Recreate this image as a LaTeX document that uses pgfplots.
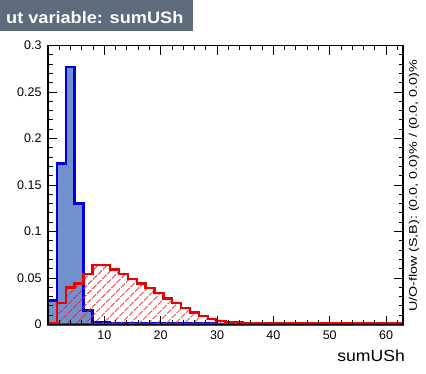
\documentclass[border=0pt]{standalone}
\usepackage{pgfplots}
\pgfplotsset{compat=1.18}
\usepackage{pgfplotstable}
\usepackage{graphicx}
\usepackage{fontspec}
\setmainfont{Liberation Sans}
\usetikzlibrary{patterns.meta}
\definecolor{sigfill}{HTML}{7290CC}
\definecolor{sigline}{HTML}{0000DD}
\definecolor{bkgline}{HTML}{EE0000}
\definecolor{titlebox}{HTML}{5D6B7D}

\pgfplotstableread{
x sig bkg
0.000 0.026 0.001
1.575 0.173 0.023
3.150 0.277 0.040
4.725 0.130 0.044
6.300 0.015 0.054
7.875 0.002 0.064
9.450 0.002 0.064
11.025 0.0015 0.059
12.600 0.0015 0.054
14.175 0.0015 0.049
15.750 0.0015 0.044
17.325 0.0015 0.039
18.900 0.0015 0.034
20.475 0.0015 0.028
22.050 0.0015 0.023
23.625 0.0015 0.018
25.200 0.0015 0.013
26.775 0.0015 0.009
28.350 0.0012 0.006
29.925 0 0.004
31.500 0 0.0025
33.075 0 0.002
34.650 0 0.0015
36.225 0 0.0012
37.800 0 0.0012
39.375 0 0.0012
40.950 0 0.0012
42.525 0 0.0012
44.100 0 0.0012
45.675 0 0.0012
47.250 0 0.0012
48.825 0 0.0012
50.400 0 0.0012
51.975 0 0.0012
53.550 0 0.0012
55.125 0 0.0012
56.700 0 0.0012
58.275 0 0.0012
59.850 0 0.0012
61.425 0 0.0012
63.000 0 0.0012
}\data

\begin{document}
\begin{tikzpicture}[x=1pt,y=1pt]
\path[use as bounding box] (0,0) rectangle (426,373);
% title box
\fill[titlebox] (0,342) rectangle (193,373);
\node[anchor=base west, inner sep=0pt, text=white] at (6,349)
  {\scalebox{1.1}[1]{\bfseries\fontsize{16.5}{19}\selectfont ut variable: sumUSh}};
\begin{axis}[
  at={(48pt,48.5pt)}, anchor=south west,
  scale only axis, width=355pt, height=279pt,
  xmin=0, xmax=63, ymin=0, ymax=0.3,
  axis on top, clip=false,
  axis line style={line width=1.6pt},
  tick align=inside,
  tick style={black, line width=0.9pt},
  major tick length=9pt, minor tick length=4.5pt,
  xtick={10,20,30,40,50,60},
  minor xtick={0,2,...,62},
  ytick={0,0.05,0.1,0.15,0.2,0.25,0.3},
  minor y tick num=4,
  ticklabel style={font=\fontsize{12.5}{14}\selectfont},
  /pgf/number format/.cd, fixed, precision=2, assume math mode=true,
  /pgfplots/.cd,
  xticklabel style={yshift=-3pt},
  yticklabel style={xshift=-3pt},
]
\addplot[const plot, fill=sigfill, draw=sigline, line width=2.4pt]
  table[x=x, y=sig]{\data} \closedcycle;
\addplot[const plot, draw=bkgline, line width=2.4pt,
  pattern={Lines[angle=45, distance=6.5pt, line width=1pt]}, pattern color=bkgline]
  table[x=x, y=bkg]{\data} \closedcycle;
\end{axis}
% x label
\node[anchor=base east, inner sep=0pt] at (405,12)
  {\scalebox{1.1}[1]{\fontsize{16}{18}\selectfont sumUSh}};
% overflow text
\node[rotate=90, inner sep=0pt] at (414,187)
  {\scalebox{1.3}[1]{\fontsize{11}{13}\selectfont U/O-flow (S,B): (0.0, 0.0)\% / (0.0, 0.0)\%}};
\end{tikzpicture}
\end{document}
